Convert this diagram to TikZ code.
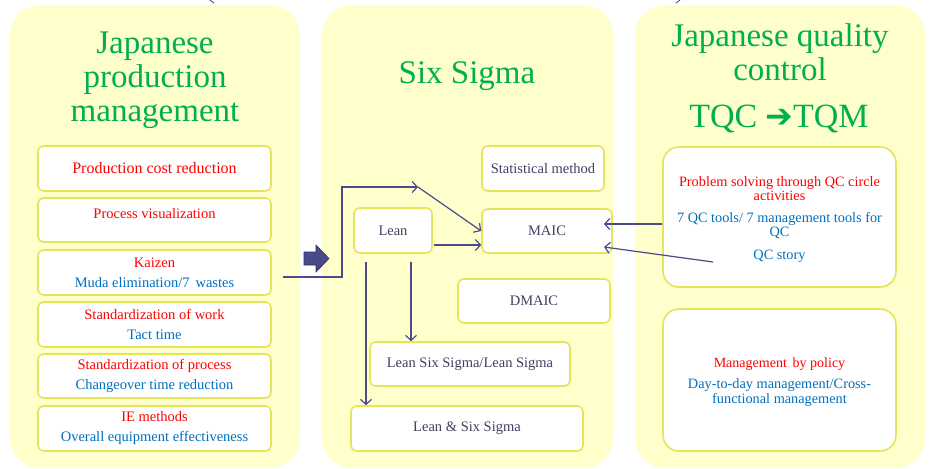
\documentclass[tikz,border=0pt]{standalone}
\usepackage{fontspec}
\setmainfont{Liberation Serif}
\newfontfamily\djv{DejaVu Sans}
\usetikzlibrary{arrows.meta}
\definecolor{panelY}{HTML}{FFFFCC}
\definecolor{boxY}{HTML}{E6E45A}
\definecolor{tred}{HTML}{FF0000}
\definecolor{tblue}{HTML}{0070C0}
\definecolor{tgreen}{HTML}{00B050}
\definecolor{tgray}{HTML}{404060}
\definecolor{arrc}{HTML}{4B4B8C}
\definecolor{blk}{HTML}{4A4A8A}
\definecolor{blkd}{HTML}{2E2E66}
\begin{document}
\begin{tikzpicture}[x=1pt,y=-1pt,
  panel/.style={fill=panelY,draw=none,rounded corners=30pt},
  ibox/.style={draw=boxY,line width=1.6pt,fill=white,rounded corners=6pt,inner sep=0pt,align=center,
    font=\fontsize{14.5}{20}\selectfont},
  mbox/.style={ibox,text=tgray},
  qbox/.style={ibox,rounded corners=16pt},
  qtxt/.style={align=center,inner sep=0pt,font=\fontsize{14.3}{14}\selectfont},
  ttl/.style={text=tgreen,align=center,font=\fontsize{33}{34}\selectfont},
  arr/.style={draw=arrc,line width=1.2pt,-{Straight Barb[length=5pt,width=11pt,line width=1.2pt]}},
  ln/.style={draw=arrc,line width=1.2pt}]
\useasboundingbox (0,0) rectangle (930,469);
% panels
\fill[panel] (10,5) rectangle (300,468);
\fill[panel] (322,5) rectangle (613,468);
\fill[panel] (635,5) rectangle (925,468);
% cut-off strokes at top
\coordinate (t1a) at (210,0); \coordinate (t1b) at (214,3);
\coordinate (t2a) at (676,3); \coordinate (t2b) at (680,0);
\draw[ln,line width=0.9pt] (t1a) -- (t1b);
\draw[ln,line width=0.9pt] (t2a) -- (t2b);
% titles
\node[ttl] (t1) at (155,80) {Japanese\\production\\management};
\node[ttl] (t2) at (467,76) {Six Sigma};
\node[ttl] (t3) at (780,52) {Japanese quality\\control};
\node[text=tgreen,font=\fontsize{34}{36}\selectfont,inner sep=0pt] (t4) at (779,119) {TQC\hspace{8pt}{\djv\fontsize{33}{33}\selectfont ➔}TQM};
% left boxes
\node[ibox,minimum width=233pt,minimum height=45pt] (b1) at (154.5,168.5) {\textcolor{tred}{\fontsize{16}{20}\selectfont Production cost reduction}};
\node[ibox,minimum width=233pt,minimum height=44pt] (b2) at (154.5,220) {\textcolor{tred}{Process visualization}\\[-12pt]\strut};
\node[ibox,minimum width=233pt,minimum height=45pt] (b3) at (154.5,272.5) {\textcolor{tred}{Kaizen}\\\textcolor{tblue}{Muda elimination/7\, wastes}};
\node[ibox,minimum width=233pt,minimum height=45pt] (b4) at (154.5,324.5) {\textcolor{tred}{Standardization of work}\\\textcolor{tblue}{Tact time}};
\node[ibox,minimum width=233pt,minimum height=44pt] (b5) at (154.5,376) {\textcolor{tred}{Standardization of process}\\\textcolor{tblue}{Changeover time reduction}};
\node[ibox,minimum width=233pt,minimum height=45pt] (b6) at (154.5,428.5) {\textcolor{tred}{IE methods}\\\textcolor{tblue}{Overall equipment effectiveness}};
% middle boxes
\node[mbox,minimum width=122pt,minimum height=45pt] (stat) at (543,168.5) {Statistical method};
\node[mbox,minimum width=130pt,minimum height=44pt] (maic) at (547,231) {MAIC};
\node[mbox,minimum width=78pt,minimum height=45pt] (lean) at (393,230.5) {Lean};
\node[mbox,minimum width=152pt,minimum height=44pt] (dmaic) at (534,301) {DMAIC};
\node[mbox,minimum width=200pt,minimum height=44pt] (lss) at (470,364) {Lean Six Sigma/Lean Sigma};
\node[mbox,minimum width=232pt,minimum height=45pt] (lands) at (467,428.5) {Lean \& Six Sigma};
% right boxes
\node[qbox,minimum width=233pt,minimum height=140pt] (qc) at (779.5,217) {};
\node[qtxt,yshift=-2.5pt] (qct) at (qc.center) {\textcolor{tred}{Problem solving through QC circle}\\\textcolor{tred}{activities}\\[8pt]\textcolor{tblue}{7 QC tools/ 7 management tools for}\\\textcolor{tblue}{QC}\\[9pt]\textcolor{tblue}{QC story}};
\node[qbox,minimum width=233pt,minimum height=142pt] (mbp) at (779.5,380) {};
\node[qtxt,yshift=-2pt] (mbpt) at (mbp.center) {\textcolor{tred}{\fontsize{14}{14}\selectfont Management\, by policy}\\[7pt]\textcolor{tblue}{Day-to-day management/Cross-}\\[1pt]\textcolor{tblue}{functional management}};
% block arrow
\filldraw[fill=blk,draw=blkd,line width=0.6pt] (304,252) -- (316,252) -- (316,245) -- (329,258.5) -- (316,272) -- (316,265) -- (304,265) -- cycle;
% connectors
\coordinate (in1) at (283,277);
\coordinate (c1) at (342,277);
\coordinate (c2) at (342,187);
\coordinate (j) at (418,187);
\draw[arr] (in1) -- (c1) -- (c2) -- (j);
\draw[arr] (j) -- (maic.west);
\coordinate (ls) at (434,245);
\draw[arr] (ls) -- (maic.west |- ls);
\coordinate (l1) at (366,262);
\coordinate (l2) at (411,262);
\draw[arr] (l1) -- (l1 |- lands.north);
\draw[arr] (l2) -- (l2 |- lss.north);
\coordinate (r1) at (604,224);
\draw[arr] (qc.west |- r1) -- (r1);
\coordinate (r2s) at (713,262);
\coordinate (r2e) at (604,247);
\draw[arr] (r2s) -- (r2e);
\end{tikzpicture}
\end{document}
